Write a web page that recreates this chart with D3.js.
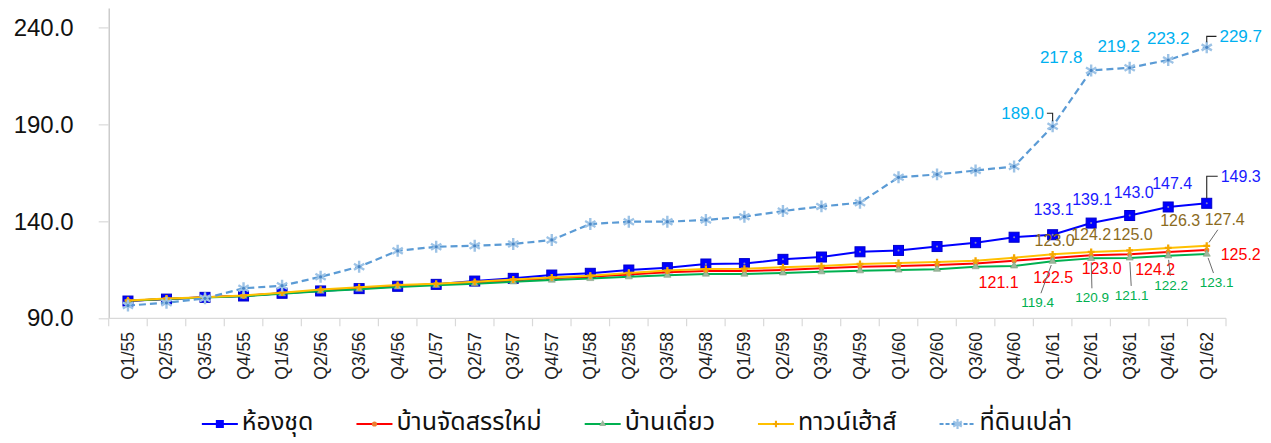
<!DOCTYPE html>
<html>
<head>
<meta charset="utf-8">
<script src="https://cdn.jsdelivr.net/npm/d3@7"></script>
<style>
  html, body { margin: 0; padding: 0; background: #fff; }
  svg { display: block; }
</style>
</head>
<body>
<svg id="chart" width="1271" height="443"></svg>
<script>
// ---------------- DATA ----------------
const categories = ["Q1/55","Q2/55","Q3/55","Q4/55","Q1/56","Q2/56","Q3/56","Q4/56",
  "Q1/57","Q2/57","Q3/57","Q4/57","Q1/58","Q2/58","Q3/58","Q4/58",
  "Q1/59","Q2/59","Q3/59","Q4/59","Q1/60","Q2/60","Q3/60","Q4/60",
  "Q1/61","Q2/61","Q3/61","Q4/61","Q1/62"];

const seriesNames = ["ห้องชุด","บ้านจัดสรรใหม่","บ้านเดี่ยว","ทาวน์เฮ้าส์","ที่ดินเปล่า"];

const condo = [98.9,99.9,100.8,101.5,102.9,104.1,105.3,106.5,107.5,109.2,110.6,112.3,113.2,114.9,116.1,118.0,
  118.2,120.4,121.6,124.3,125.0,127.0,129.0,131.8,133.1,139.1,143.0,147.4,149.3];
const newHousing = [99.0,100.0,100.8,101.6,102.9,104.3,105.5,106.8,107.5,108.4,109.5,110.6,111.4,112.6,113.7,114.4,
  114.4,114.9,115.8,116.6,117.0,117.5,118.3,119.7,121.1,122.5,123.0,124.2,125.2];
const detached = [99.0,99.9,100.7,101.4,102.6,104.0,105.0,106.2,107.0,107.8,108.8,109.7,110.5,111.4,112.2,112.8,
  112.8,113.4,114.0,114.5,114.9,115.3,116.6,117.0,119.4,120.9,121.1,122.2,123.1];
const townhouse = [99.2,100.2,100.8,101.8,103.2,104.8,106.0,107.2,107.8,108.8,110.0,111.1,112.0,113.4,114.6,115.4,
  115.6,116.3,117.0,118.0,118.5,119.0,119.7,121.2,123.0,124.2,125.0,126.3,127.4];
const land = [96.6,98.0,100.3,105.5,106.8,111.4,116.6,124.8,126.9,127.4,128.3,130.4,138.6,139.8,139.8,140.7,
  142.4,145.3,147.7,149.6,162.7,164.2,166.2,168.3,189.0,217.8,219.2,223.2,229.7];

const yTicks = [90.0, 140.0, 190.0, 240.0];
const yDomain = [90, 250];

// labelled points: indices of the last five quarters
const labelIdx = [24,25,26,27,28];

// ---------------- LAYOUT / STYLE ----------------
const svg = d3.select("#chart");
const plot = { left: 108.7, right: 1226, top: 8, bottom: 318.3 };
const x = d3.scaleBand().domain(categories).range([plot.left, plot.right]);
const y = d3.scaleLinear().domain(yDomain).range([plot.bottom, plot.top]);
const cx = c => x(c) + x.bandwidth() / 2;

const NUMFONT = "'Liberation Sans', Arial, sans-serif";
const THAIFONT = "Tahoma, 'Noto Sans Thai', 'Noto Sans Thai UI', 'Leelawadee UI', Loma, Garuda, 'Noto Sans', sans-serif";

// series style config (label offsets relative to the point, in px)
const series = [
  { name: seriesNames[0], values: condo, color: "#0000FF", width: 2, dash: null, marker: "square", labelColor: "#1a1aff", labelSize: 16,
    offsets: [[1,-25],[1,-24],[4,-23],[4,-24],[34,-27]], leaders: [null,null,null,null,"elbow"] },
  { name: seriesNames[1], values: newHousing, color: "#FF0000", width: 2, dash: null, marker: "circle", labelColor: "#FF0000", labelSize: 16,
    offsets: [[-54,24],[-38,22],[-28,14],[-13,17],[34,4]], leaders: [null,null,null,null,null] },
  { name: seriesNames[2], values: detached, color: "#00B050", width: 2, dash: null, marker: "triangle", labelColor: "#00B050", labelSize: 13.5,
    offsets: [[-15,41],[1,39],[2,37],[3,29],[10,28]], leaders: ["straight","straight","straight","straight","straight"] },
  { name: seriesNames[3], values: townhouse, color: "#FFC000", width: 2, dash: null, marker: "diamond", labelColor: "#8B6B1E", labelSize: 16,
    offsets: [[2,-14],[0,-18],[3,-16],[12,-28],[18,-26]], leaders: [null,null,null,null,"straight"] },
  { name: seriesNames[4], values: land, color: "#5B9BD5", width: 2.2, dash: "7,4", marker: "asterisk", labelColor: "#00B0F0", labelSize: 17,
    offsets: [[-30,-13],[-30,-13],[-11,-22],[0,-22],[34,-11]], leaders: ["elbow",null,null,null,"elbow"] }
];

// ---------------- AXES ----------------
const axisColor = "#BFBFBF";
const yAxis = d3.axisLeft(y).tickValues(yTicks).tickFormat(d3.format(".1f")).tickSize(10).tickSizeOuter(0);
const gy = svg.append("g").attr("transform", `translate(${plot.left},0)`).call(yAxis);
gy.select(".domain").attr("stroke", axisColor).attr("stroke-width", 1.2);
gy.selectAll(".tick line").attr("stroke", "#D9D9D9").attr("stroke-width", 1.2);
gy.selectAll(".tick text").attr("x", -35).attr("font-family", NUMFONT).attr("font-size", 24).attr("fill", "#111");

svg.append("line").attr("x1", plot.left).attr("x2", plot.right)
  .attr("y1", plot.bottom).attr("y2", plot.bottom)
  .attr("stroke", "#D9D9D9").attr("stroke-width", 1.2);
const bounds = categories.map(c => x(c)).concat([x(categories[categories.length-1]) + x.step()]);
svg.append("g").selectAll("line").data(bounds).join("line")
  .attr("x1", d => d).attr("x2", d => d)
  .attr("y1", plot.bottom).attr("y2", plot.bottom + 8)
  .attr("stroke", "#D9D9D9").attr("stroke-width", 1.2);
svg.append("g").selectAll("text").data(categories).join("text")
  .attr("transform", d => `translate(${cx(d) + 6},332) rotate(-90)`)
  .attr("text-anchor", "end")
  .attr("font-family", NUMFONT).attr("font-size", 17.5).attr("fill", "#222")
  .text(d => d);

// ---------------- SERIES ----------------
const line = d3.line().x((d, i) => cx(categories[i])).y(d => y(d));

function drawMarker(g, s) {
  const pts = s.values.map((v, i) => ({ x: cx(categories[i]), y: y(v) }));
  const mg = g.append("g");
  if (s.marker === "square") {
    mg.selectAll("rect").data(pts).join("rect")
      .attr("x", d => d.x - 5).attr("y", d => d.y - 5).attr("width", 10).attr("height", 10)
      .attr("fill", "#0000FF").attr("stroke", "#0000CC").attr("stroke-width", 1);
    mg.selectAll("circle").data(pts).join("circle")
      .attr("cx", d => d.x).attr("cy", d => d.y).attr("r", 1).attr("fill", "#8a8ab8");
  } else if (s.marker === "circle") {
    mg.selectAll("circle").data(pts).join("circle")
      .attr("cx", d => d.x).attr("cy", d => d.y).attr("r", 2.6).attr("fill", "#ED7D31");
  } else if (s.marker === "triangle") {
    mg.selectAll("path").data(pts).join("path")
      .attr("transform", d => `translate(${d.x},${d.y})`)
      .attr("d", d3.symbol(d3.symbolTriangle, 22))
      .attr("fill", "#9DB89D").attr("stroke", "#7FA07F").attr("stroke-width", 0.6);
  } else if (s.marker === "diamond") {
    mg.selectAll("path").data(pts).join("path")
      .attr("transform", d => `translate(${d.x},${d.y})`)
      .attr("d", d3.symbol(d3.symbolCross, 26))
      .attr("fill", "#F5A800");
  } else if (s.marker === "asterisk") {
    mg.selectAll("path").data(pts).join("path")
      .attr("transform", d => `translate(${d.x},${d.y})`)
      .attr("d", d3.symbol(d3.symbolAsterisk, 100))
      .attr("fill", "none").attr("stroke", "#9DC3E6").attr("stroke-width", 2.4);
    mg.selectAll("circle").data(pts).join("circle")
      .attr("cx", d => d.x).attr("cy", d => d.y).attr("r", 1.6).attr("fill", "#4A86C5");
  }
}

const gSeries = svg.append("g");
series.forEach(s => {
  const g = gSeries.append("g");
  g.append("path").datum(s.values)
    .attr("fill", "none").attr("stroke", s.color).attr("stroke-width", s.width)
    .attr("stroke-dasharray", s.dash).attr("stroke-linejoin", "round")
    .attr("d", line);
  drawMarker(g, s);
});

// ---------------- DATA LABELS ----------------
const gLabels = svg.append("g");
const fmt = d3.format(".1f");
series.forEach(s => {
  labelIdx.forEach((idx, k) => {
    const px = cx(categories[idx]), py = y(s.values[idx]);
    const [dx, dy] = s.offsets[k];
    const lx = px + dx, ly = py + dy;
    const t = gLabels.append("text")
      .attr("x", lx).attr("y", ly).attr("dy", "0.35em")
      .attr("text-anchor", "middle")
      .attr("font-family", NUMFONT).attr("font-size", s.labelSize)
      .attr("fill", s.labelColor)
      .text(fmt(s.values[idx]));
    const lt = s.leaders[k];
    if (!lt) return;
    const w = t.node().getComputedTextLength();
    const h = s.labelSize * 0.75;
    if (lt === "elbow") {
      const side = px > lx ? 1 : -1;
      const sx = lx + side * (w / 2 + 3);
      const vy = py > ly ? py - 5 : py + 5;
      gLabels.append("polyline")
        .attr("points", `${sx},${ly} ${px},${ly} ${px},${vy}`)
        .attr("fill", "none").attr("stroke", "#222").attr("stroke-width", 1.1);
    } else {
      const hw = w / 2 + 2, hh = h / 2 + 4;
      const vx = px - lx, vy = py - ly;
      const tx = Math.abs(vx) > 0 ? hw / Math.abs(vx) : Infinity;
      const ty = Math.abs(vy) > 0 ? hh / Math.abs(vy) : Infinity;
      const tt = Math.min(tx, ty);
      const ex = lx + vx * tt, ey = ly + vy * tt;
      const len = Math.hypot(vx, vy);
      const sx = px - vx / len * 4, sy = py - vy / len * 4;
      gLabels.append("line")
        .attr("x1", sx).attr("y1", sy).attr("x2", ex).attr("y2", ey)
        .attr("stroke", "#6b6b6b").attr("stroke-width", 1);
    }
  });
});

// ---------------- LEGEND ----------------
const legendY = 424;   // centre line of legend symbols
const legendBase = 430; // text baseline
const lineLen = 36, textGap = 4, itemGap = 43;
const lg = svg.append("g");
const items = series.map(s => {
  const g = lg.append("g");
  const t = g.append("text").attr("x", lineLen + textGap).attr("y", legendBase)
    .attr("font-family", THAIFONT).attr("font-size", 25).attr("fill", "#111").text(s.name);
  return { g, s, w: lineLen + textGap + t.node().getComputedTextLength() };
});
const total = d3.sum(items, d => d.w) + itemGap * (items.length - 1);
let cur = 637 - total / 2;
items.forEach(it => {
  it.g.attr("transform", `translate(${cur},0)`);
  it.g.append("line").attr("x1", 0).attr("x2", lineLen).attr("y1", legendY).attr("y2", legendY)
    .attr("stroke", it.s.color).attr("stroke-width", it.s.width).attr("stroke-dasharray", it.s.dash ? "4,2" : null);
  const m = it.g.append("g").attr("transform", `translate(${lineLen/2},${legendY})`);
  if (it.s.marker === "square") m.append("rect").attr("x", -4).attr("y", -4).attr("width", 8).attr("height", 8).attr("fill", "#0000FF");
  else if (it.s.marker === "circle") m.append("circle").attr("r", 2.6).attr("fill", "#ED7D31");
  else if (it.s.marker === "triangle") m.append("path").attr("d", d3.symbol(d3.symbolTriangle, 20)).attr("fill", "#9DB89D");
  else if (it.s.marker === "diamond") m.append("path").attr("d", d3.symbol(d3.symbolCross, 22)).attr("fill", "#F5A800");
  else m.append("path").attr("d", d3.symbol(d3.symbolAsterisk, 70)).attr("fill", "none").attr("stroke", "#9DC3E6").attr("stroke-width", 2.2);
  cur += it.w + itemGap;
});
</script>
</body>
</html>
